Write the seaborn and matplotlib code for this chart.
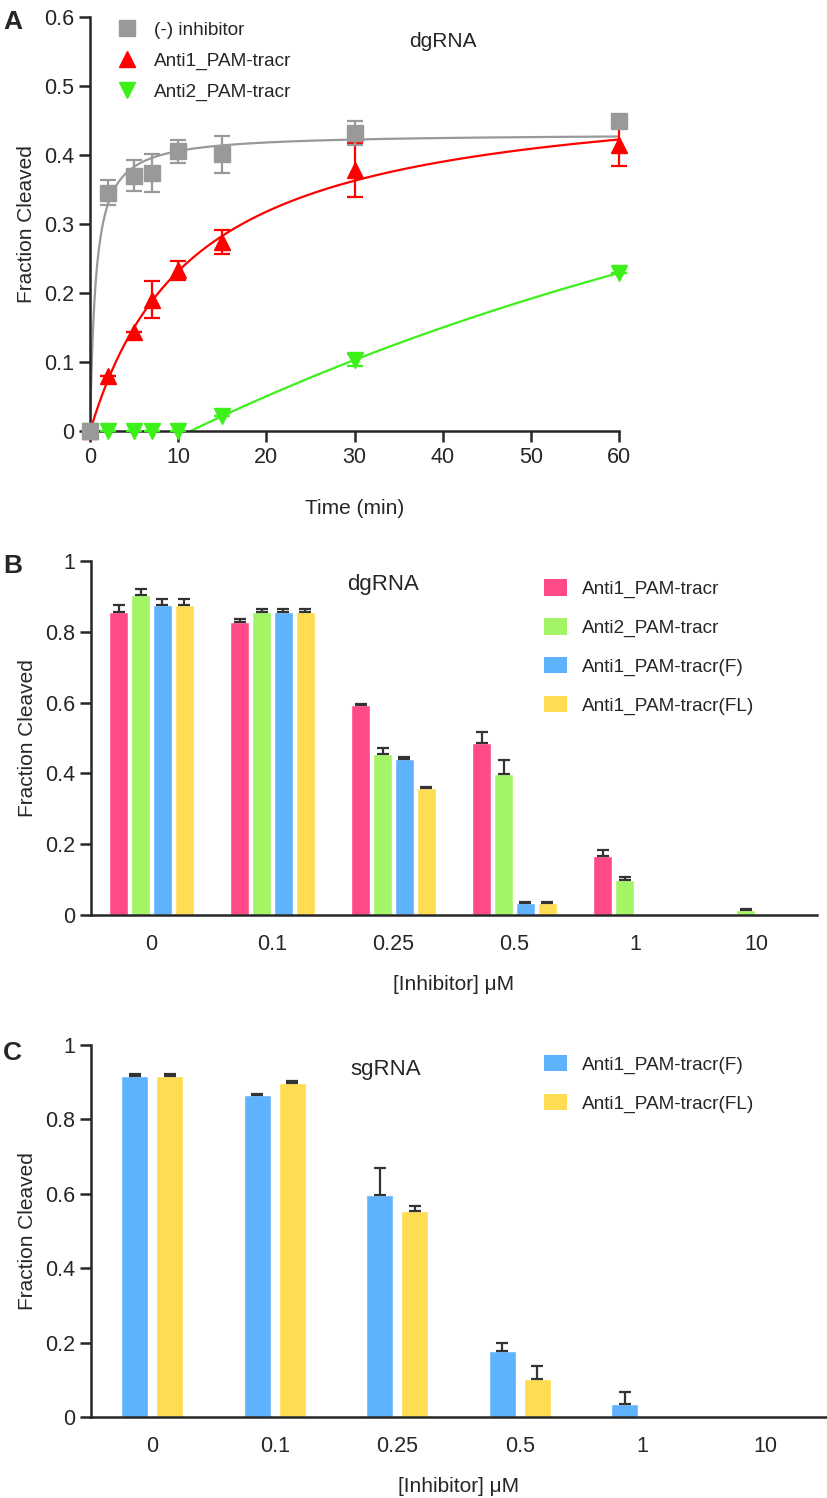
import matplotlib
matplotlib.use("Agg")
import matplotlib.pyplot as plt
from matplotlib.lines import Line2D
from matplotlib.patches import Patch
import numpy as np
import pandas as pd
import seaborn as sns

# ---- panel A: time course (dgRNA) ----
times = [0, 2, 5, 7, 10, 15, 30, 60]
no_inhibitor = [0, 0.345, 0.370, 0.374, 0.405, 0.401, 0.432, 0.449]
no_inhibitor_err = [0, 0.018, 0.022, 0.028, 0.016, 0.027, 0.017, 0]
anti1_time = [0, 0.080, 0.143, 0.190, 0.233, 0.274, 0.378, 0.415]
anti1_time_err = [0, 0, 0, 0.027, 0.014, 0.017, 0.039, 0.031]
anti2_time = [0, 0, 0, 0, 0, 0.022, 0.103, 0.229]
anti2_time_err = [0, 0, 0, 0, 0, 0, 0.009, 0]

# ---- panel B: inhibitor titration (dgRNA) ----
conc_labels = ["0", "0.1", "0.25", "0.5", "1", "10"]
b_series = ["Anti1_PAM-tracr", "Anti2_PAM-tracr",
            "Anti1_PAM-tracr(F)", "Anti1_PAM-tracr(FL)"]
b_anti1 = [0.856, 0.828, 0.592, 0.487, 0.168, 0.0]
b_anti1_err = [0.020, 0.008, 0.003, 0.030, 0.015, 0]
b_anti2 = [0.904, 0.856, 0.455, 0.398, 0.100, 0.014]
b_anti2_err = [0.017, 0.007, 0.017, 0.040, 0.008, 0.004]
b_anti1_f = [0.876, 0.856, 0.440, 0.034, 0.0, 0.0]
b_anti1_f_err = [0.017, 0.007, 0.006, 0.003, 0, 0]
b_anti1_fl = [0.876, 0.856, 0.358, 0.034, 0.0, 0.0]
b_anti1_fl_err = [0.017, 0.007, 0.004, 0.003, 0, 0]

# ---- panel C: inhibitor titration (sgRNA) ----
c_series = ["Anti1_PAM-tracr(F)", "Anti1_PAM-tracr(FL)"]
c_anti1_f = [0.918, 0.866, 0.597, 0.178, 0.035, 0.0]
c_anti1_f_err = [0.003, 0.003, 0.073, 0.022, 0.032, 0]
c_anti1_fl = [0.918, 0.899, 0.554, 0.102, 0.0, 0.0]
c_anti1_fl_err = [0.003, 0.003, 0.012, 0.035, 0, 0]

GRAY = "#999999"
RED = "#ff0000"
GREEN = "#3cf01a"
PINK = "#ff4a87"
LGREEN = "#a4f565"
BLUE = "#5fb2fd"
YELLOW = "#fedd52"
ERR = "#333333"

sns.set_style("ticks")
plt.rcParams["font.family"] = ["Liberation Sans", "DejaVu Sans"]
plt.rcParams["axes.linewidth"] = 1.8
plt.rcParams["xtick.major.width"] = 1.8
plt.rcParams["ytick.major.width"] = 1.8
plt.rcParams["xtick.major.size"] = 8
plt.rcParams["ytick.major.size"] = 8
plt.rcParams["xtick.labelsize"] = 15.5
plt.rcParams["ytick.labelsize"] = 15.5


def fit_hyperbola(t, y):
    # least squares fit of y = ymax * t / (K + t)
    t, y = np.asarray(t, float), np.asarray(y, float)
    best = None
    for K in np.linspace(0.05, 40, 4000):
        f = t / (K + t)
        p = (f @ y) / (f @ f)
        sse = np.sum((p * f - y) ** 2)
        if best is None or sse < best[0]:
            best = (sse, p, K)
    return best[1], best[2]


def fit_lag_exponential(t, y, lags):
    # least squares fit of y = P * (1 - exp(-k (t - t0))) for t > t0
    t, y = np.asarray(t, float), np.asarray(y, float)
    best = None
    for t0 in lags:
        for k in np.linspace(0.001, 0.5, 1000):
            f = np.where(t > t0, 1 - np.exp(-k * (t - t0)), 0.0)
            if f @ f == 0:
                continue
            p = (f @ y) / (f @ f)
            sse = np.sum((p * f - y) ** 2)
            if best is None or sse < best[0]:
                best = (sse, p, k, t0)
    return best[1], best[2], best[3]


def fmt(v, _):
    return f"{v:g}"


fig = plt.figure(figsize=(8.27, 14.98), dpi=100)

# ================= panel A =================
axA = fig.add_axes([0.109, 0.7123, 0.6395, 0.2764])
tt = np.linspace(0, 60, 600)

ymax0, K0 = fit_hyperbola(times, no_inhibitor)
ymax1, K1 = fit_hyperbola(times, anti1_time)
p2, k2, t02 = fit_lag_exponential(times, anti2_time, np.arange(5, 14, 0.1))
tt2 = tt[tt >= t02]

sns.lineplot(x=tt, y=ymax0 * tt / (K0 + tt), color=GRAY, lw=1.6, ax=axA)
sns.lineplot(x=tt, y=ymax1 * tt / (K1 + tt), color=RED, lw=1.6, ax=axA)
sns.lineplot(x=tt2, y=p2 * (1 - np.exp(-k2 * (tt2 - t02))), color=GREEN,
             lw=1.6, ax=axA)

for vals, errs, col, mk, ms, z in [
    (anti2_time, anti2_time_err, GREEN, "v", 11, 4),
    (anti1_time, anti1_time_err, RED, "^", 11, 5),
    (no_inhibitor, no_inhibitor_err, GRAY, "s", 11, 6),
]:
    axA.errorbar(times, vals, yerr=errs, fmt=mk, color=col, ms=ms, mec=col,
                 ecolor=col, elinewidth=1.6, capsize=5.5, capthick=1.6,
                 clip_on=False, zorder=z)

axA.set_xlim(0, 60)
axA.set_ylim(0, 0.6)
axA.set_xticks(range(0, 61, 10))
axA.set_yticks(np.arange(0, 0.61, 0.1))
axA.yaxis.set_major_formatter(plt.FuncFormatter(fmt))
axA.set_xlabel("Time (min)", fontsize=15, labelpad=22)
axA.set_ylabel("Fraction Cleaved", fontsize=15, labelpad=6)
sns.despine(ax=axA)
axA.text(40, 0.565, "dgRNA", fontsize=15, ha="center", va="center")
handlesA = [
    Line2D([], [], marker="s", color=GRAY, ls="none", ms=11),
    Line2D([], [], marker="^", color=RED, ls="none", ms=12),
    Line2D([], [], marker="v", color=GREEN, ls="none", ms=12),
]
axA.legend(handlesA, ["(-) inhibitor", "Anti1_PAM-tracr", "Anti2_PAM-tracr"],
           loc="upper left", bbox_to_anchor=(0.02, 1.008), frameon=False,
           fontsize=13.7, handletextpad=0.4, labelspacing=0.72,
           borderaxespad=0)


def bar_panel(ax, series, values, errors, colors, width, gap, label, legend_pos):
    rows = []
    for name, vals in zip(series, values):
        for c, v in zip(conc_labels, vals):
            rows.append({"conc": c, "series": name, "value": v})
    df = pd.DataFrame(rows)
    sns.barplot(data=df, x="conc", y="value", hue="series", order=conc_labels,
                hue_order=series, palette=colors, width=width, gap=gap,
                errorbar=None, saturation=1, ax=ax, legend=False)
    for cont, vals, errs in zip(ax.containers, values, errors):
        for bar, v, e in zip(cont.patches, vals, errs):
            if e <= 0:
                continue
            x = bar.get_x() + bar.get_width() / 2
            ax.errorbar([x], [v], yerr=[[0], [e]], fmt="none", ecolor=ERR,
                        elinewidth=1.6, capsize=4.5, capthick=1.6, zorder=3)
    ax.set_xlim(-0.5, 5.5)
    ax.set_ylim(0, 1)
    ax.set_yticks(np.arange(0, 1.01, 0.2))
    ax.yaxis.set_major_formatter(plt.FuncFormatter(fmt))
    ax.tick_params(axis="x", length=0, pad=14)
    ax.set_xlabel("[Inhibitor] μM", fontsize=15, labelpad=14)
    ax.set_ylabel("Fraction Cleaved", fontsize=15, labelpad=6)
    sns.despine(ax=ax)
    ax.text(1.62, label[1], label[0], fontsize=16, ha="left", va="center")
    handles = [Patch(facecolor=c, edgecolor="none") for c in colors]
    ax.legend(handles, series, loc="upper left", bbox_to_anchor=legend_pos,
              frameon=False, fontsize=13.7, handlelength=1.2, handleheight=0.95,
              handletextpad=0.8, labelspacing=1.05, borderaxespad=0)


# ================= panel B =================
axB = fig.add_axes([0.110, 0.3892, 0.878, 0.2363])
bar_panel(axB, b_series, [b_anti1, b_anti2, b_anti1_f, b_anti1_fl],
          [b_anti1_err, b_anti2_err, b_anti1_f_err, b_anti1_fl_err],
          [PINK, LGREEN, BLUE, YELLOW], 0.72, 0.13, ("dgRNA", 0.935),
          (0.614, 0.97))

# ================= panel C =================
axC = fig.add_axes([0.110, 0.0541, 0.889, 0.2483])
bar_panel(axC, c_series, [c_anti1_f, c_anti1_fl],
          [c_anti1_f_err, c_anti1_fl_err],
          [BLUE, YELLOW], 0.572, 0.23, ("sgRNA", 0.935), (0.606, 0.994))

for letter, y in [("A", 0.985), ("B", 0.622), ("C", 0.297)]:
    fig.text(0.004, y, letter, fontsize=19, fontweight="bold", va="center")

fig.savefig("out.png", dpi=100)
